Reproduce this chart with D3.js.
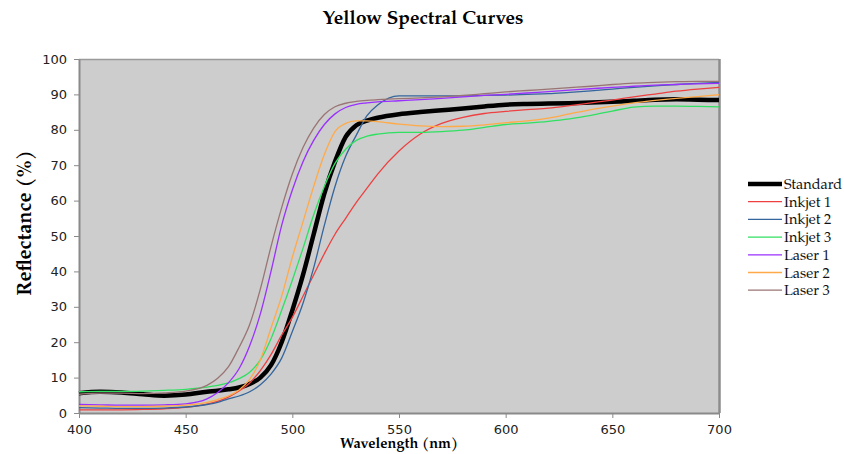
<!DOCTYPE html>
<html>
<head>
<meta charset="utf-8">
<script src="https://cdn.jsdelivr.net/npm/d3@7"></script>
<style>
  body { margin: 0; background: #fff; }
  svg { display: block; }
</style>
</head>
<body>
<svg></svg>
<script>
// wavelengths (nm), denser through the steep rise
var wavelengths = [400, 410, 420, 430, 440, 450, 460, 465, 470, 475, 480, 485, 490, 495, 500, 505, 510, 515,
    520, 525, 530, 535, 540, 550, 560, 570, 580, 590, 600, 610, 620, 630, 640, 650, 660, 670, 680, 690, 700]

var standard = [5.6, 6.0, 5.8, 5.3, 4.9, 5.2, 6.0, 6.3, 6.7, 7.2, 8.2, 10, 13.5, 20, 29, 39, 50.5, 62,
    71, 78, 81.3, 82.6, 83.4, 84.4, 85, 85.5, 86, 86.6, 87.1, 87.3, 87.4, 87.5, 87.7, 87.9, 88.2, 88.5, 88.6, 88.5, 88.4]
var inkjet1 = [0.9, 0.9, 0.9, 1.0, 1.2, 1.6, 2.5, 3.3, 4.5, 6.2, 8.5, 12, 16.5, 22, 27, 33, 39, 45,
    50.5, 55, 59.5, 63.5, 67.5, 74, 78.8, 81.8, 83.5, 84.6, 85.2, 85.7, 86.1, 86.8, 87.6, 88.4, 89.3, 90.1, 90.9, 91.5, 92]
var inkjet2 = [1.5, 1.4, 1.3, 1.3, 1.4, 1.7, 2.4, 3.0, 4.0, 4.8, 6, 8, 11, 15.5, 23, 31, 41, 53,
    64, 72.5, 78.5, 84, 87, 89.6, 89.6, 89.6, 89.6, 89.7, 89.8, 90, 90.2, 90.6, 91, 91.5, 92, 92.4, 92.8, 93.1, 93.4]
var inkjet3 = [6.0, 6.1, 6.1, 6.2, 6.4, 6.7, 7.3, 7.8, 8.5, 9.7, 11.5, 15, 21, 29, 37.5, 46.5, 56, 64,
    70.5, 74.5, 77, 78.2, 78.8, 79.3, 79.3, 79.5, 79.9, 80.7, 81.5, 81.9, 82.4, 83.1, 84.1, 85.3, 86.4, 86.7, 86.7, 86.6, 86.5]
var laser1 = [2.4, 2.3, 2.2, 2.2, 2.3, 2.6, 4.0, 5.8, 8.5, 12.5, 19, 28, 40, 53, 63, 71, 77, 81.5,
    84.5, 86.3, 87.2, 87.6, 87.9, 88.2, 88.5, 88.9, 89.3, 89.7, 90, 90.4, 90.8, 91.2, 91.6, 92, 92.3, 92.6, 92.8, 93, 93.1]
var laser2 = [2.0, 1.9, 1.8, 1.8, 1.9, 2.2, 3.0, 3.8, 4.8, 6.5, 9.5, 15, 24, 33, 44, 54, 64, 73,
    79.5, 81.8, 82.5, 82.5, 82.3, 81.6, 81.1, 80.9, 81, 81.4, 82, 82.5, 83.3, 84.5, 85.7, 86.7, 87.6, 88.3, 88.9, 89.4, 89.9]
var laser3 = [5.3, 5.6, 5.6, 5.5, 5.7, 6.2, 7.8, 9.8, 13, 18.5, 25, 35, 47, 58, 67.5, 75, 80.5, 84.3,
    86.5, 87.5, 88, 88.3, 88.5, 88.8, 89, 89.3, 89.7, 90.2, 90.7, 91.1, 91.5, 91.9, 92.3, 92.8, 93.2, 93.4, 93.6, 93.7, 93.7]

var seriesNames = ["Standard", "Inkjet 1", "Inkjet 2", "Inkjet 3", "Laser 1", "Laser 2", "Laser 3"]
var seriesValues = [standard, inkjet1, inkjet2, inkjet3, laser1, laser2, laser3]
var seriesColors = ["#000000", "#ee4040", "#34659c", "#30e060", "#9a30ff", "#ffaa48", "#9a7474"]

var xTicks = [400, 450, 500, 550, 600, 650, 700]
var yTicks = [0, 10, 20, 30, 40, 50, 60, 70, 80, 90, 100]

var W = 844, H = 454
var plot = { left: 79, right: 719, top: 59, bottom: 413 }
var serif = "'Palatino Linotype', Palatino, 'TeX Gyre Pagella', 'Liberation Serif', serif"
var sans = "'DejaVu Sans', Verdana, sans-serif"

var svg = d3.select("svg")
    .attr("width", W)
    .attr("height", H)

var x = d3.scaleLinear().domain([400, 700]).range([plot.left, plot.right])
var y = d3.scaleLinear().domain([0, 100]).range([plot.bottom, plot.top])

// plot area
svg.append("rect")
    .attr("x", plot.left).attr("y", plot.top)
    .attr("width", plot.right - plot.left).attr("height", plot.bottom - plot.top)
    .style("fill", "#cdcdcd")
svg.append("line")
    .attr("x1", plot.left).attr("x2", plot.right)
    .attr("y1", plot.top + 0.5).attr("y2", plot.top + 0.5)
    .style("stroke", "#9a9a9a").style("stroke-width", 1.5)
svg.append("line")
    .attr("x1", plot.right + 0.5).attr("x2", plot.right + 0.5)
    .attr("y1", plot.top).attr("y2", plot.bottom)
    .style("stroke", "#8c8c8c").style("stroke-width", 2.5)

// axes
var xAxis = svg.append("g")
    .attr("transform", "translate(0," + plot.bottom + ")")
    .call(d3.axisBottom(x).tickValues(xTicks).tickSize(5).tickPadding(7).tickSizeOuter(0))
var yAxis = svg.append("g")
    .attr("transform", "translate(" + plot.left + ",0)")
    .call(d3.axisLeft(y).tickValues(yTicks).tickSize(5).tickPadding(7).tickSizeOuter(0))

;[xAxis, yAxis].forEach(function (g) {
    g.select(".domain").style("stroke", "#8a8a8a").style("stroke-width", 2)
    g.selectAll(".tick line").style("stroke", "#8a8a8a")
    g.selectAll("text")
        .style("font-family", sans)
        .style("font-size", "13px")
        .style("fill", "#222")
})

// curves
var line = d3.line()
    .x(function (d) { return x(d[0]) })
    .y(function (d) { return y(d[1]) })
    .curve(d3.curveMonotoneX)

seriesValues.forEach(function (vals, i) {
    svg.append("path")
        .datum(wavelengths.map(function (w, j) { return [w, vals[j]] }))
        .attr("d", line)
        .style("fill", "none")
        .style("stroke", seriesColors[i])
        .style("stroke-width", i == 0 ? 4.5 : 1.3)
        .style("stroke-linejoin", "round")
})

// titles
svg.append("text")
    .attr("x", 423).attr("y", 24)
    .attr("text-anchor", "middle")
    .style("font-family", serif).style("font-weight", "bold").style("font-size", "19px")
    .text("Yellow Spectral Curves")

svg.append("text")
    .attr("x", 399).attr("y", 448)
    .attr("text-anchor", "middle")
    .style("font-family", serif).style("font-weight", "bold").style("font-size", "14.5px")
    .text("Wavelength (nm)")

svg.append("text")
    .attr("transform", "translate(31,223) rotate(-90)")
    .attr("text-anchor", "middle")
    .style("font-family", serif).style("font-weight", "bold").style("font-size", "20px")
    .text("Reflectance (%)")

// legend
var legend = svg.append("g")
    .selectAll("g")
    .data(seriesNames)
    .enter().append("g")
    .attr("transform", function (d, i) { return "translate(748," + (184 + i * 17.7) + ")" })

legend.append("line")
    .attr("x1", 0).attr("x2", 34)
    .style("stroke", function (d, i) { return seriesColors[i] })
    .style("stroke-width", function (d, i) { return i == 0 ? 4.5 : 1.3 })

legend.append("text")
    .attr("x", 36).attr("y", 5)
    .style("font-family", serif).style("font-size", "14.5px")
    .style("fill", "#111")
    .text(function (d) { return d })
</script>
</body>
</html>
